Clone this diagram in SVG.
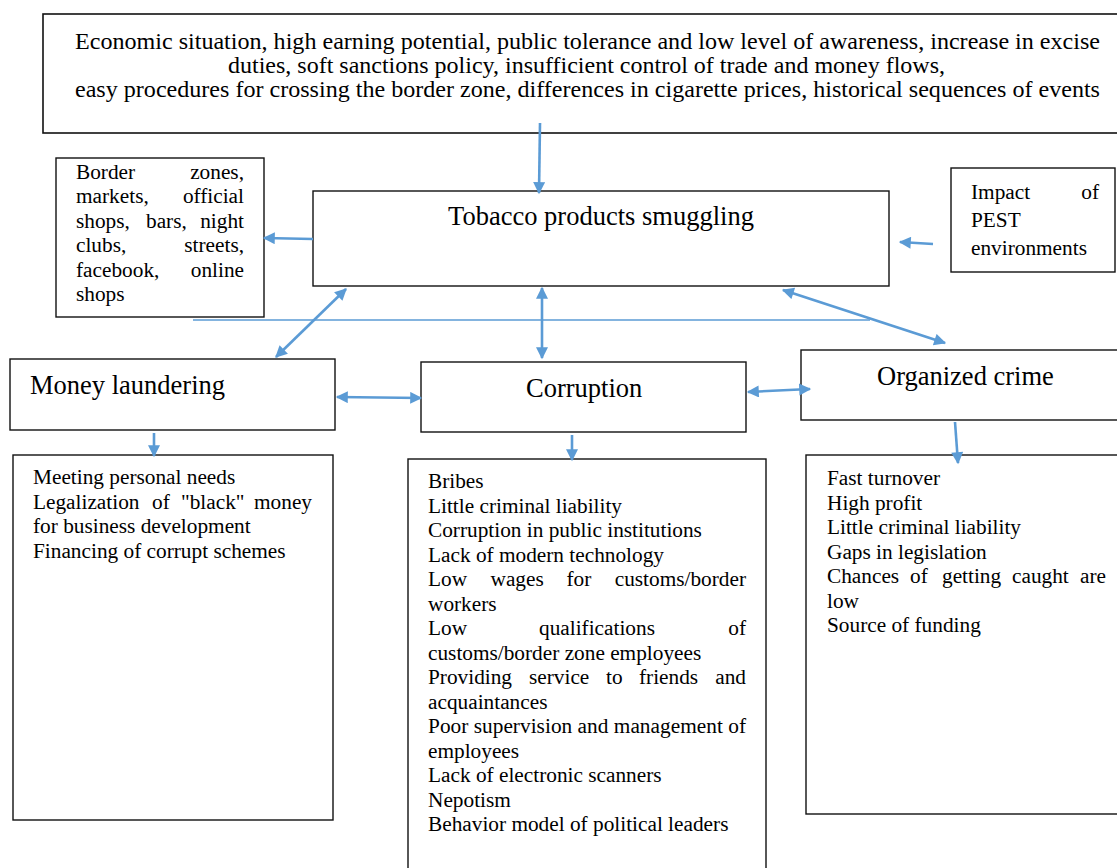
<svg xmlns="http://www.w3.org/2000/svg" width="1117" height="868" viewBox="0 0 1117 868">
<defs>
<marker id="ah" viewBox="0 0 10 10" refX="9" refY="5" markerWidth="14" markerHeight="12" markerUnits="userSpaceOnUse" orient="auto-start-reverse">
<path d="M0,0 L10,5 L0,10 z" fill="#5B9BD5"/>
</marker>
<style>
.box{fill:#fff;stroke:#111;stroke-width:1.4}
.t{font-family:"Liberation Serif","Times New Roman",serif;font-size:21.3px;fill:#000}
.big{font-family:"Liberation Serif","Times New Roman",serif;font-size:26.5px;fill:#000}
.top{font-family:"Liberation Serif","Times New Roman",serif;font-size:24px;fill:#000;text-anchor:middle}
.e{text-anchor:end}
.m{text-anchor:middle}
.c{fill:none;stroke:#5B9BD5;stroke-width:2.6}
.one{marker-end:url(#ah)}
.two{marker-start:url(#ah);marker-end:url(#ah)}
</style>
</defs>
<rect width="1117" height="868" fill="#fff"/>

<g id="factors">
<rect class="box" x="43" y="14" width="1090" height="119" style="stroke-width:1.6"/>
<text class="top" x="587.5" y="49" textLength="1025" lengthAdjust="spacingAndGlyphs">Economic situation, high earning potential, public tolerance and low level of awareness, increase in excise</text>
<text class="top" x="586.5" y="73" textLength="717" lengthAdjust="spacingAndGlyphs">duties, soft sanctions policy, insufficient control of trade and money flows,</text>
<text class="top" x="587.5" y="97" textLength="1025" lengthAdjust="spacingAndGlyphs">easy procedures for crossing the border zone, differences in cigarette prices, historical sequences of events</text>
</g>

<g id="tobacco">
<rect class="box" x="313" y="191" width="576" height="95"/>
<text class="big m" x="601" y="225">Tobacco products smuggling</text>
</g>

<g id="places">
<rect class="box" x="56" y="158" width="208" height="159"/>
<text class="t" x="76" y="179">Border</text><text class="t e" x="244" y="179">zones,</text>
<text class="t" x="76" y="203.4">markets,</text><text class="t e" x="244" y="203.4">official</text>
<text class="t" x="76" y="227.8">shops,</text><text class="t" x="146" y="227.8">bars,</text><text class="t e" x="244" y="227.8">night</text>
<text class="t" x="76" y="252.2">clubs,</text><text class="t e" x="244" y="252.2">streets,</text>
<text class="t" x="76" y="276.6">facebook,</text><text class="t e" x="244" y="276.6">online</text>
<text class="t" x="76" y="301">shops</text>
</g>

<g id="pest">
<rect class="box" x="951" y="168" width="164" height="104"/>
<text class="t" x="971" y="199">Impact</text><text class="t e" x="1099" y="199">of</text>
<text class="t" x="971" y="227">PEST</text>
<text class="t" x="971" y="255">environments</text>
</g>

<g id="money-laundering">
<rect class="box" x="10" y="359" width="325" height="71"/>
<text class="big" x="30" y="394">Money laundering</text>
</g>

<g id="corruption">
<rect class="box" x="421" y="362" width="325" height="70"/>
<text class="big" x="526" y="397">Corruption</text>
</g>

<g id="organized-crime">
<rect class="box" x="801" y="350" width="330" height="70"/>
<text class="big" x="877" y="385">Organized crime</text>
</g>

<g id="ml-details">
<rect class="box" x="13" y="455" width="320" height="365"/>
<text class="t" x="33" y="484">Meeting personal needs</text>
<text class="t" x="33" y="508.5">Legalization</text><text class="t" x="152" y="508.5">of</text><text class="t" x="181" y="508.5">"black"</text><text class="t e" x="312" y="508.5">money</text>
<text class="t" x="33" y="533">for business development</text>
<text class="t" x="33" y="557.5">Financing of corrupt schemes</text>
</g>

<g id="corruption-details">
<rect class="box" x="408" y="459" width="358" height="420"/>
<text class="t" x="428" y="488">Bribes</text>
<text class="t" x="428" y="512.5">Little criminal liability</text>
<text class="t" x="428" y="537">Corruption in public institutions</text>
<text class="t" x="428" y="561.5">Lack of modern technology</text>
<text class="t" x="428" y="586">Low</text><text class="t" x="490.5" y="586">wages</text><text class="t" x="566.5" y="586">for</text><text class="t e" x="746" y="586">customs/border</text>
<text class="t" x="428" y="610.5">workers</text>
<text class="t" x="428" y="635">Low</text><text class="t" x="539" y="635">qualifications</text><text class="t e" x="746" y="635">of</text>
<text class="t" x="428" y="659.5">customs/border zone employees</text>
<text class="t" x="428" y="684">Providing</text><text class="t" x="529" y="684">service</text><text class="t" x="606" y="684">to</text><text class="t" x="639" y="684">friends</text><text class="t e" x="746" y="684">and</text>
<text class="t" x="428" y="708.5">acquaintances</text>
<text class="t" x="428" y="733" textLength="318" lengthAdjust="spacing">Poor supervision and management of</text>
<text class="t" x="428" y="757.5">employees</text>
<text class="t" x="428" y="782">Lack of electronic scanners</text>
<text class="t" x="428" y="806.5">Nepotism</text>
<text class="t" x="428" y="831">Behavior model of political leaders</text>
</g>

<g id="oc-details">
<rect class="box" x="806" y="455" width="325" height="359"/>
<text class="t" x="827" y="485">Fast turnover</text>
<text class="t" x="827" y="509.5">High profit</text>
<text class="t" x="827" y="534">Little criminal liability</text>
<text class="t" x="827" y="558.5">Gaps in legislation</text>
<text class="t" x="827" y="583">Chances</text><text class="t" x="910" y="583">of</text><text class="t" x="942" y="583">getting</text><text class="t" x="1012" y="583">caught</text><text class="t e" x="1106" y="583">are</text>
<text class="t" x="827" y="607.5">low</text>
<text class="t" x="827" y="632">Source of funding</text>
</g>

<g id="connectors">
<line x1="193" y1="320" x2="870" y2="320" stroke="#5B9BD5" stroke-width="1.5"/>
<line class="c one" x1="540" y1="123" x2="539" y2="193"/>
<line class="c one" x1="313" y1="239" x2="264" y2="238"/>
<line class="c one" x1="933" y1="244" x2="900" y2="242"/>
<line class="c two" x1="346" y1="289" x2="276" y2="357"/>
<line class="c two" x1="542" y1="288" x2="542" y2="358"/>
<line class="c two" x1="783" y1="290" x2="945" y2="343"/>
<line class="c two" x1="337" y1="397" x2="421" y2="398"/>
<line class="c two" x1="748" y1="392" x2="810" y2="389"/>
<line class="c one" x1="154" y1="433" x2="154" y2="456"/>
<line class="c one" x1="572" y1="435" x2="572" y2="460"/>
<line class="c one" x1="955" y1="422" x2="958" y2="463"/>
</g>
</svg>
